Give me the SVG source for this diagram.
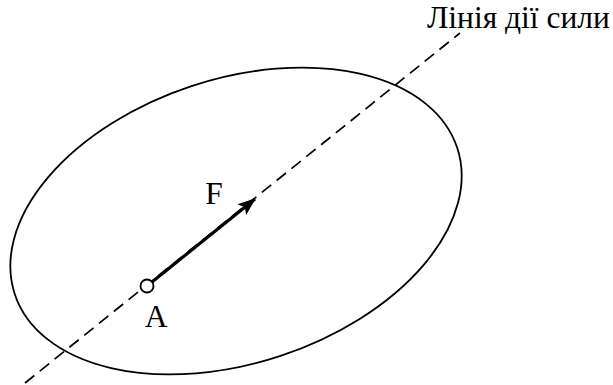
<svg xmlns="http://www.w3.org/2000/svg" width="613" height="385" viewBox="0 0 613 385">
<style>
text{font-family:"Liberation Serif","Times New Roman",serif;font-size:31.5px;fill:#000}
.dash{stroke:#000;stroke-width:1.7;stroke-dasharray:12 7;fill:none}
</style>
<defs>
<marker id="ah" viewBox="0 0 18 14" refX="17" refY="7" markerWidth="18" markerHeight="14" markerUnits="userSpaceOnUse" orient="auto">
<path d="M0,0 L18,7 L0,14 L4,7 z" fill="#000"/>
</marker>
</defs>
<rect width="613" height="385" fill="#fff"/>
<g id="body">
<ellipse cx="236" cy="221" rx="233" ry="142" transform="rotate(-18.3 236 221)" fill="none" stroke="#000" stroke-width="1.8"/>
</g>
<g id="connectors">
<line class="dash" x1="25" y1="383" x2="460" y2="33"/>
<line x1="147" y1="286" x2="255" y2="199" stroke="#000" stroke-width="3.2" marker-end="url(#ah)"/>
</g>
<g id="pointA">
<circle cx="147" cy="286" r="6.5" fill="#fff" stroke="#000" stroke-width="1.8"/>
<text x="156" y="327" text-anchor="middle">A</text>
</g>
<g id="labelF"><text x="214" y="204" text-anchor="middle">F</text></g>
<g id="labelLine"><text x="427" y="28">Лінія дії сили</text></g>
</svg>
